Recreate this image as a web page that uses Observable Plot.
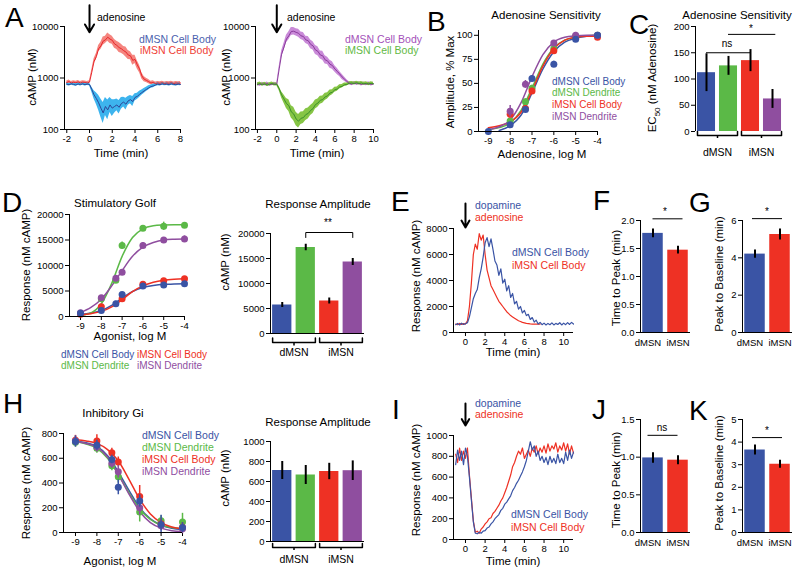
<!DOCTYPE html>
<html><head><meta charset="utf-8">
<script src="https://cdn.jsdelivr.net/npm/d3@7"></script>
<script src="https://cdn.jsdelivr.net/npm/@observablehq/plot@0.6"></script>
<style>
html,body{margin:0;padding:0;background:#fff;}
#root{position:relative;width:800px;height:573px;overflow:hidden;font-family:"Liberation Sans",Arial,Helvetica,sans-serif;background:#fff;}
#root svg{position:absolute;overflow:visible;background:transparent;}
.t{position:absolute;white-space:nowrap;line-height:1;}
.t sub{font-size:0.7em;line-height:0;}
</style></head><body><div id="root"></div><script>
// ---------- categories / labels ----------
const seriesNames = ["dMSN Cell Body", "dMSN Dendrite", "iMSN Cell Body", "iMSN Dendrite"];
const groupNames = ["dMSN", "iMSN"];
const doseX = [-9, -8, -7.3, -7, -6, -5, -4];
const curveX = [-9, -8.5, -8, -7.5, -7, -6.5, -6, -5.5, -5, -4.5, -4];

// ---------- Panel A (left): adenosine, t = -2..8 step 0.2 ----------
const aL_t0 = -2, aL_step = 0.2;
const aL_dmsn = [760,740,770,750,730,765,745,770,740,760,750,
  600,470,400,330,260,210,280,240,300,260,
  280,300,270,320,340,310,360,380,350,420,
  440,480,520,560,600,640,680,700,730,760,
  740,770,750,760,740,770,750,740,760,750];
const aL_dmsnSpread = [1.06,1.06,1.06,1.06,1.06,1.06,1.06,1.06,1.06,1.06,1.06,
  1.12,1.2,1.3,1.4,1.5,1.6,1.5,1.55,1.4,1.45,
  1.35,1.3,1.35,1.3,1.25,1.3,1.22,1.2,1.25,1.18,
  1.15,1.15,1.12,1.12,1.1,1.1,1.08,1.08,1.07,1.07,
  1.06,1.06,1.06,1.06,1.06,1.06,1.06,1.06,1.06,1.06];
const aL_imsn = [820,850,800,830,810,840,800,830,820,800,830,
  1300,2100,2600,3700,4200,5200,5500,6200,5700,5400,
  4600,4300,3900,3700,3400,3200,2800,2700,2200,2300,
  1800,1500,1100,950,900,850,800,820,780,800,
  790,810,780,800,790,810,780,800,790,800];
const aL_imsnSpread = [1.07,1.07,1.07,1.07,1.07,1.07,1.07,1.07,1.07,1.07,1.07,
  1.1,1.12,1.15,1.15,1.18,1.2,1.18,1.2,1.22,1.2,
  1.22,1.2,1.25,1.22,1.2,1.25,1.22,1.2,1.25,1.2,
  1.2,1.18,1.15,1.12,1.1,1.1,1.08,1.08,1.07,1.07,
  1.07,1.07,1.07,1.07,1.07,1.07,1.07,1.07,1.07,1.07];

// ---------- Panel A (right): t = -2..10 step 0.25 ----------
const aR_t0 = -2, aR_step = 0.25;
const aR_purple = [760,740,770,750,780,740,760,770,750,
  1500,2900,4000,5700,6600,8000,8100,7700,
  7400,6600,6400,5500,5300,4500,4200,3500,
  3300,2800,2700,2250,2150,1850,1750,1500,
  1350,1200,1050,950,860,790,760,800,
  770,790,750,780,760,790,750,770];
const aR_purpleSpread = [1.07,1.07,1.07,1.07,1.07,1.07,1.07,1.07,1.07,
  1.12,1.15,1.18,1.18,1.2,1.2,1.18,1.18,
  1.2,1.18,1.2,1.18,1.2,1.22,1.2,1.22,
  1.22,1.2,1.22,1.2,1.18,1.2,1.18,1.15,
  1.15,1.12,1.12,1.1,1.08,1.07,1.07,1.07,
  1.07,1.07,1.07,1.07,1.07,1.07,1.07,1.07];
const aR_green = [750,780,740,770,730,760,780,750,760,
  620,470,390,320,290,220,200,160,
  145,165,170,195,205,235,255,305,
  325,370,380,430,450,510,530,590,
  610,670,690,740,750,790,800,780,
  810,780,800,770,790,760,790,770];
const aR_greenSpread = [1.07,1.07,1.07,1.07,1.07,1.07,1.07,1.07,1.07,
  1.1,1.15,1.2,1.25,1.3,1.32,1.35,1.35,
  1.35,1.32,1.3,1.3,1.28,1.25,1.25,1.22,
  1.2,1.2,1.18,1.18,1.15,1.15,1.12,1.12,
  1.1,1.1,1.08,1.08,1.07,1.07,1.07,1.07,
  1.07,1.07,1.07,1.07,1.07,1.07,1.07,1.07];

// ---------- Panel B: adenosine sensitivity (% max) ----------
const bPtDB = [0, 7, 23, 55, 70, 96, 100],      bErrDB = [1, 2, 2, 3, 3, 2, 1];
const bPtDD = [null, 11, 31, 45, 86, 99, 100],  bErrDD = [0, 3, 3, 3, 3, 2, 1];
const bPtIB = [null, 18, 24, 42, 84, 98, 98],   bErrIB = [0, 3, 3, 3, 3, 2, 1];
const bPtID = [null, 21, 49, null, 92, 100, 100], bErrID = [0, 6, 4, 0, 2, 3, 1];
const bFitDB = [null, 1, 6, 17, 40, 65, 83, 93, 97, 99, 100];
const bFitDD = [2, 4, 9, 22, 45, 70, 87, 95, 98, 99.5, 100];
const bFitIB = [4, 6, 10, 20, 42, 68, 86, 95, 98, 99, 99];
const bFitID = [2, 5, 12, 30, 57, 80, 93, 98, 99.5, 100, 100];

// ---------- Panel C: EC50 ----------
const cEc50 = [112, 125, 135, 62];
const cEc50Err = [36, 18, 21, 18];

// ---------- Panel D: stimulatory Golf ----------
const dPtDB = [650, 1200, 2500, 4300, 6000, 6200, 6400],    dErrDB = [250, 300, 500, 400, 350, 350, 300];
const dPtDD = [600, 3500, 7100, 13900, 17300, 17700, 17900], dErrDD = [200, 300, 400, 700, 500, 800, 500];
const dPtIB = [450, 1900, null, 3500, 6300, 7000, 7400],    dErrIB = [200, 300, 0, 400, 400, 400, 300];
const dPtID = [750, 3700, 7500, 8700, 13900, 15000, 15200], dErrID = [300, 300, 400, 500, 600, 400, 600];
const dFitDB = [400, 700, 1200, 2200, 3600, 4900, 5700, 6100, 6300, 6350, 6400];
const dFitDD = [200, 700, 2500, 6500, 11800, 15500, 17200, 17800, 17950, 18000, 18000];
const dFitIB = [300, 550, 1000, 1900, 3300, 4900, 6000, 6700, 7100, 7300, 7400];
const dFitID = [800, 1800, 3400, 6000, 9000, 11800, 13600, 14500, 15000, 15150, 15200];
const dAmp = [5700, 17200, 6500, 14300];
const dAmpErr = [500, 650, 600, 700];

// ---------- Panel E: t = -1..11 step 0.2 ----------
const e_t0 = -1, e_step = 0.2;
const eDopa = [600,700,580,720,620,680,750,1200,1900,2600,
  3000,3300,4200,4900,5800,6900,7300,6600,7200,6400,
  5500,5200,4400,4900,3800,4100,3200,3600,2700,3000,
  2200,2400,1800,2000,1500,1700,1300,1400,1000,1150,
  800,950,650,780,600,720,580,700,600,740,
  580,700,620,750,580,720,600,760,620,780,650];
const eAdeno = [650,600,700,620,680,650,900,2000,3800,6000,
  6800,6400,7600,7100,7500,6000,4800,4200,3600,3300,
  3000,2700,2400,2200,2000,1800,1600,1450,1300,1200,
  1100,1000,900,850,780,740,700,680,660,650,
  640,650,640,650];
const fTime = [1.77, 1.47], fErr = [0.08, 0.07];
const gPeak = [4.2, 5.25], gErr = [0.22, 0.3];

// ---------- Panel H: inhibitory Gi ----------
const hPtDB = [735, 705, 590, 365, 255, 65, 40], hErrDB = [45, 40, 35, 60, 50, 75, 40];
const hPtDD = [730, 680, 540, 450, 165, 95, 85], hErrDD = [40, 40, 40, 50, 80, 40, 70];
const hPtIB = [745, 740, 645, 570, 290, 70, 40], hErrIB = [40, 50, 35, 40, 90, 40, 40];
const hPtID = [740, 690, 560, 490, 200, 55, 30], hErrID = [40, 40, 40, 50, 60, 40, 40];
const hFitDB = [740, 725, 695, 620, 490, 340, 200, 110, 60, 35, 25];
const hFitDD = [735, 715, 680, 600, 470, 320, 190, 105, 60, 40, 30];
const hFitIB = [750, 740, 720, 670, 580, 430, 270, 150, 80, 45, 30];
const hFitID = [735, 720, 690, 610, 470, 310, 170, 80, 35, 15, 8];
const hAmp = [710, 665, 700, 708];
const hAmpErr = [90, 95, 82, 98];

// ---------- Panel I: t = -1..11 step 0.2 ----------
const i_t0 = -1, i_step = 0.2;
const iDopa = [720,860,760,850,720,880,800,600,380,170,
  60,55,70,60,80,85,110,120,150,170,
  200,220,240,280,300,340,360,390,420,470,
  500,540,570,610,650,700,760,850,940,860,
  900,800,850,760,800,740,790,720,800,740,
  780,730,820,740,780,730,840,760,860,780,840];
const iAdeno = [820,740,880,760,850,780,880,620,400,180,
  70,80,60,100,120,150,170,200,210,250,
  270,300,330,370,400,450,500,560,620,700,
  740,800,850,820,880,780,820,860,800,880,
  840,900,820,880,840,900,830,920,850,900,
  870,930,840,900,860,930,850,920,820,900,830];
const jTime = [0.99, 0.96], jErr = [0.07, 0.06];
const kPeak = [3.65, 3.02], kErr = [0.22, 0.18];

// ---------- styling ----------
const FONT = '"Liberation Sans", Arial, Helvetica, sans-serif';
const BLUE = "#3a54a5", GREEN = "#5bb947", RED = "#ee3124", PURPLE = "#8f4e9f";
const SERIES_COLORS = [BLUE, GREEN, RED, PURPLE];
const root = document.getElementById("root");
const M = {l: 50, r: 20, t: 30, b: 30};
const intFmt = d => d3.format("d")(d).replace("\u2212", "-");

function plotAt(fr, opts) {
  const svg = Plot.plot(Object.assign({
    width: fr.x1 - fr.x0 + M.l + M.r,
    height: fr.y1 - fr.y0 + M.t + M.b,
    marginLeft: M.l, marginRight: M.r, marginTop: M.t, marginBottom: M.b,
    style: {fontFamily: FONT, fontSize: "9.5px", background: "transparent", overflow: "visible", color: "#000"}
  }, opts));
  svg.style.position = "absolute";
  svg.style.left = (fr.x0 - M.l) + "px";
  svg.style.top = (fr.y0 - M.t) + "px";
  root.appendChild(svg);
  return svg;
}
function label(text, x, y, o = {}) {
  const d = document.createElement("div");
  d.className = "t";
  d.innerHTML = text;
  d.style.left = x + "px";
  d.style.top = y + "px";
  d.style.fontSize = (o.size || 10) + "px";
  d.style.color = o.color || "#000";
  const ax = o.anchor === "middle" ? "-50%" : o.anchor === "end" ? "-100%" : "0";
  d.style.transform = `translate(${ax}, -50%)` + (o.rotate ? " rotate(-90deg)" : "");
  root.appendChild(d);
}
const ts = (t0, step, vals, spread) => vals.map((v, i) => ({
  t: +(t0 + i * step).toFixed(3), v, lo: spread ? v / spread[i] : v, hi: spread ? v * spread[i] : v}));
const axisX = (domain, ticks, extra = {}) => Object.assign({domain, ticks, tickSize: 4, tickPadding: 2, label: null, tickFormat: intFmt}, extra);
const axisY = (domain, ticks, extra = {}) => Object.assign({domain, ticks, tickSize: 4, tickPadding: 2, label: null, tickFormat: intFmt}, extra);
const arrowAt0 = (y1, y2) => Plot.arrow([0], {x1: d => d, x2: d => d, y1: () => y1, y2: () => y2, stroke: "#000", strokeWidth: 2, headLength: 7});

// ---------- A left ----------
{
  const dm = ts(aL_t0, aL_step, aL_dmsn, aL_dmsnSpread);
  const im = ts(aL_t0, aL_step, aL_imsn, aL_imsnSpread);
  plotAt({x0: 64, x1: 180, y0: 26, y1: 129}, {
    x: axisX([-2.2, 8], [-2, 0, 2, 4, 6, 8]),
    y: axisY([100, 10000], [100, 1000, 10000], {type: "log"}),
    marks: [
      Plot.areaY(im, {x: "t", y1: "lo", y2: "hi", fill: "#f5857f"}),
      Plot.areaY(dm, {x: "t", y1: "lo", y2: "hi", fill: "#3db4ee"}),
      Plot.lineY(im, {x: "t", y: "v", stroke: "#e8262b", strokeWidth: 1}),
      Plot.lineY(dm, {x: "t", y: "v", stroke: "#2d4597", strokeWidth: 1}),
      Plot.ruleX([-2.2]), Plot.ruleY([100]),
      arrowAt0(26000, 7700)
    ]
  });
}
// ---------- A right ----------
{
  const pu = ts(aR_t0, aR_step, aR_purple, aR_purpleSpread);
  const gr = ts(aR_t0, aR_step, aR_green, aR_greenSpread);
  plotAt({x0: 255, x1: 373, y0: 26, y1: 129}, {
    x: axisX([-2.2, 10], [-2, 0, 2, 4, 6, 8, 10]),
    y: axisY([100, 10000], [100, 1000, 10000], {type: "log"}),
    marks: [
      Plot.areaY(pu, {x: "t", y1: "lo", y2: "hi", fill: "#c98ad8"}),
      Plot.areaY(gr, {x: "t", y1: "lo", y2: "hi", fill: "#86c545"}),
      Plot.lineY(pu, {x: "t", y: "v", stroke: "#8a3b9c", strokeWidth: 1}),
      Plot.lineY(gr, {x: "t", y: "v", stroke: "#3b8f2c", strokeWidth: 1}),
      Plot.ruleX([-2.2]), Plot.ruleY([100]),
      arrowAt0(26000, 7700)
    ]
  });
}

// ---------- dose-response helper ----------
function dosePanel(fr, xdom, ydom, yticks, pts, errs, fits) {
  const marks = [];
  fits.forEach((f, s) => {
    const rows = curveX.map((x, i) => ({x, v: f[i]})).filter(d => d.v != null);
    marks.push(Plot.line(rows, {x: "x", y: "v", stroke: SERIES_COLORS[s], strokeWidth: 1.5, curve: "monotone-x"}));
  });
  const order = [1, 2, 3, 0];
  order.forEach(s => {
    const rows = doseX.map((x, i) => ({x, v: pts[s][i], e: errs[s][i]})).filter(d => d.v != null);
    marks.push(Plot.ruleX(rows, {x: "x", y1: d => d.v - d.e, y2: d => d.v + d.e, stroke: SERIES_COLORS[s], strokeWidth: 1.5}));
    marks.push(Plot.dot(rows, {x: "x", y: "v", fill: SERIES_COLORS[s], r: 3.5}));
  });
  marks.push(Plot.ruleX([xdom[0]]), Plot.ruleY([ydom[0]]));
  plotAt(fr, {
    x: axisX(xdom, [-9, -8, -7, -6, -5, -4]),
    y: axisY(ydom, yticks),
    marks
  });
}

dosePanel({x0: 478, x1: 597, y0: 30, y1: 131}, [-9.45, -4], [0, 105], [0, 25, 50, 75, 100],
  [bPtDB, bPtDD, bPtIB, bPtID], [bErrDB, bErrDD, bErrIB, bErrID], [bFitDB, bFitDD, bFitIB, bFitID]);
dosePanel({x0: 69, x1: 184, y0: 214, y1: 316}, [-9.53, -4], [0, 20000], [0, 5000, 10000, 15000, 20000],
  [dPtDB, dPtDD, dPtIB, dPtID], [dErrDB, dErrDD, dErrIB, dErrID], [dFitDB, dFitDD, dFitIB, dFitID]);
dosePanel({x0: 63, x1: 182, y0: 433, y1: 532}, [-9.56, -4], [0, 800], [0, 200, 400, 600, 800],
  [hPtDB, hPtDD, hPtIB, hPtID], [hErrDB, hErrDD, hErrIB, hErrID], [hFitDB, hFitDD, hFitIB, hFitID]);

// ---------- bar helper ----------
function barPanel(fr, vals, errs, colors, ydom, yticks, cfg = {}) {
  const n = vals.length;
  const rows = vals.map((v, i) => ({p: i + 1, v, e: errs[i], c: colors[i]}));
  const w = 0.41;
  const k = (ydom[1] - ydom[0]) / (fr.y1 - fr.y0); // data units per pixel
  const marks = [
    Plot.rect(rows, {x1: d => d.p - w, x2: d => d.p + w, y1: () => 0, y2: "v", fill: "c"}),
    Plot.ruleX(rows, {x: "p", y1: d => d.v - d.e, y2: d => d.v + d.e, stroke: "#000", strokeWidth: 2}),
    Plot.ruleX([0.5])
  ];
  if (cfg.baseline) marks.push(Plot.ruleY([0]));
  if (cfg.brackets) {
    const b = cfg.brackets;
    const br = [];
    groupNames.forEach((g, gi) => {
      const a = 2 * gi + 1 - w, z = 2 * gi + 2 + w;
      br.push({g, x: a, y: -b.end * k}, {g, x: a, y: -b.line * k}, {g, x: z, y: -b.line * k}, {g, x: z, y: -b.end * k});
    });
    marks.push(Plot.line(br, {x: "x", y: "y", z: "g", stroke: "#000", strokeWidth: 1.5}));
    marks.push(Plot.ruleX([1.5, 3.5], {y1: () => -b.line * k, y2: () => -b.tick * k, stroke: "#000", strokeWidth: 1.5}));
    marks.push(Plot.text(groupNames.map((g, gi) => ({g, p: 2 * gi + 1.5})), {x: "p", text: "g", frameAnchor: "bottom", dy: b.label, fontSize: 10.5}));
  } else {
    const labelPos = [0.8, 2.0];
    marks.push(Plot.text(groupNames.map((g, gi) => ({g, p: labelPos[gi]})), {x: "p", text: "g", frameAnchor: "bottom", dy: cfg.labelDy || 13, fontSize: 9.5}));
  }
  (cfg.sig || []).forEach(s => {
    if (s.ticks) {
      const pts = [{x: s.x1, y: s.y - s.ticks * k}, {x: s.x1, y: s.y}, {x: s.x2, y: s.y}, {x: s.x2, y: s.y - s.ticks * k}];
      marks.push(Plot.line(pts, {x: "x", y: "y", stroke: "#000", strokeWidth: 1}));
    } else {
      marks.push(Plot.ruleY([s.y], {x1: () => s.x1, x2: () => s.x2, stroke: "#000", strokeWidth: 1}));
    }
  });
  plotAt(fr, {
    x: {domain: [0.5, n + 0.5], axis: null},
    y: axisY(ydom, yticks, cfg.yfmt ? {tickFormat: cfg.yfmt} : {}),
    color: {type: "identity"},
    marks
  });
}

barPanel({x0: 695, x1: 783, y0: 26, y1: 131}, cEc50, cEc50Err, SERIES_COLORS, [0, 200], [0, 50, 100, 150, 200],
  {brackets: {end: 0, line: 4, tick: 7, label: 24}, sig: [{x1: 1, x2: 3, y: 150}, {x1: 2, x2: 4.15, y: 185}]});
barPanel({x0: 270, x1: 364, y0: 233, y1: 333}, dAmp, dAmpErr, SERIES_COLORS, [0, 20000], [0, 5000, 10000, 15000, 20000],
  {baseline: true, brackets: {end: 4.5, line: 9, tick: 12.5, label: 22}, sig: [{x1: 2, x2: 4, y: 20200, ticks: 5}]});
barPanel({x0: 270, x1: 364, y0: 441, y1: 541}, hAmp, hAmpErr, SERIES_COLORS, [0, 1000], [0, 200, 400, 600, 800, 1000],
  {baseline: true, brackets: {end: 2, line: 6, tick: 9, label: 21}});
barPanel({x0: 640, x1: 690, y0: 220, y1: 332}, fTime, fErr, [BLUE, RED], [0, 2], [0, 0.5, 1, 1.5, 2],
  {baseline: true, yfmt: d3.format(".1f"), sig: [{x1: 1, x2: 2.2, y: 2.03}]});
barPanel({x0: 742, x1: 792, y0: 220, y1: 332}, gPeak, gErr, [BLUE, RED], [0, 6], [0, 2, 4, 6],
  {baseline: true, sig: [{x1: 0.9, x2: 2.1, y: 6.1}]});
barPanel({x0: 640, x1: 690, y0: 419, y1: 532}, jTime, jErr, [BLUE, RED], [0, 1.5], [0, 0.5, 1, 1.5],
  {baseline: true, yfmt: d3.format(".1f"), sig: [{x1: 0.8, x2: 2.0, y: 1.29}]});
barPanel({x0: 742, x1: 792, y0: 419, y1: 532}, kPeak, kErr, [BLUE, RED], [0, 5], [0, 1, 2, 3, 4, 5],
  {baseline: true, sig: [{x1: 0.9, x2: 2.1, y: 4.2}]});

// ---------- E / I traces ----------
function tracePanel(fr, ydom, yticks, blue, red, arrow) {
  plotAt(fr, {
    x: axisX([-1.22, 11], [0, 2, 4, 6, 8, 10]),
    y: axisY(ydom, yticks),
    marks: [
      Plot.lineY(red, {x: "t", y: "v", stroke: RED, strokeWidth: 1.2}),
      Plot.lineY(blue, {x: "t", y: "v", stroke: BLUE, strokeWidth: 1.2}),
      Plot.ruleX([-1.22]), Plot.ruleY([0]),
      arrowAt0(arrow[0], arrow[1])
    ]
  });
}
tracePanel({x0: 453, x1: 573, y0: 228, y1: 332}, [0, 8000], [0, 2000, 4000, 6000, 8000],
  ts(e_t0, e_step, eDopa), ts(e_t0, e_step, eAdeno), [9920, 8080]);
tracePanel({x0: 453, x1: 573, y0: 435, y1: 539}, [0, 1000], [0, 200, 400, 600, 800, 1000],
  ts(i_t0, i_step, iDopa), ts(i_t0, i_step, iAdeno), [1308, 1096]);

// ---------- text ----------
const L = 28;
[["A", 5, 18], ["B", 427, 22], ["C", 629, 25], ["D", 2, 203], ["E", 391, 202], ["F", 593, 201],
 ["G", 689, 203], ["H", 3, 404], ["I", 392, 410], ["J", 592, 410], ["K", 689, 411]]
  .forEach(([s, x, y]) => label(s, x, y, {size: L}));

// titles
const TT = 11.5;
label("Adenosine Sensitivity", 546, 16, {size: TT, anchor: "middle"});
label("Adenosine Sensitivity", 737, 16, {size: TT, anchor: "middle"});
label("Stimulatory Golf", 115, 204, {size: TT, anchor: "middle"});
label("Response Amplitude", 318, 205, {size: TT, anchor: "middle"});
label("Inhibitory Gi", 113, 414, {size: TT, anchor: "middle"});
label("Response Amplitude", 318, 423, {size: TT, anchor: "middle"});

// axis labels
const AX = 11.5;
label("Time (min)", 121, 154, {size: AX, anchor: "middle"});
label("cAMP (nM)", 33, 77, {size: AX, anchor: "middle", rotate: true});
label("Time (min)", 317, 154, {size: AX, anchor: "middle"});
label("cAMP (nM)", 227, 77, {size: AX, anchor: "middle", rotate: true});
label("Adenosine, log M", 542, 155, {size: AX, anchor: "middle"});
label("Amplitude, % Max", 451, 82, {size: AX, anchor: "middle", rotate: true});
label("EC<sub>50</sub> (nM Adenosine)", 653, 78, {size: AX, anchor: "middle", rotate: true});
label("Agonist, log M", 130, 337, {size: AX, anchor: "middle"});
label("Response (nM cAMP)", 27, 265, {size: AX, anchor: "middle", rotate: true});
label("cAMP (nM)", 226, 262, {size: AX, anchor: "middle", rotate: true});
label("Time (min)", 513, 353, {size: AX, anchor: "middle"});
label("Response (nM cAMP)", 417, 276, {size: AX, anchor: "middle", rotate: true});
label("Time to Peak (min)", 617, 278, {size: AX, anchor: "middle", rotate: true});
label("Peak to Baseline (min)", 720, 274, {size: AX, anchor: "middle", rotate: true});
label("Agonist, log M", 120, 562, {size: AX, anchor: "middle"});
label("Response (nM cAMP)", 27, 483, {size: AX, anchor: "middle", rotate: true});
label("cAMP (nM)", 226, 478, {size: AX, anchor: "middle", rotate: true});
label("Time (min)", 513, 562, {size: AX, anchor: "middle"});
label("Response (nM cAMP)", 417, 480, {size: AX, anchor: "middle", rotate: true});
label("Time to Peak (min)", 617, 480, {size: AX, anchor: "middle", rotate: true});
label("Peak to Baseline (min)", 720, 473, {size: AX, anchor: "middle", rotate: true});

// annotations / legends
const LG = 10.5;
label("adenosine", 97, 17, {size: LG});
label("adenosine", 287, 17, {size: LG});
label("dMSN Cell Body", 139, 39, {size: LG, color: "#4a61ae"});
label("iMSN Cell Body", 140, 50, {size: LG, color: "#ef4136"});
label("dMSN Cell Body", 345, 39, {size: LG, color: "#a451b9"});
label("iMSN Cell Body", 345, 50, {size: LG, color: "#62b945"});
[82, 93, 105, 117].forEach((y, i) => label(seriesNames[i], 552, y, {size: 10, color: SERIES_COLORS[i]}));
[[61, 355], [61, 366], [137, 355], [137, 366]].forEach(([x, y], i) => label(seriesNames[i], x, y, {size: 10, color: SERIES_COLORS[i]}));
[435, 447, 459, 471].forEach((y, i) => label(seriesNames[i], 142, y, {size: LG, color: SERIES_COLORS[i]}));
label("dopamine", 475, 205, {size: LG, color: BLUE});
label("adenosine", 475, 217, {size: LG, color: RED});
label("dMSN Cell Body", 512, 252, {size: LG, color: BLUE});
label("iMSN Cell Body", 512, 265, {size: LG, color: RED});
label("dopamine", 475, 403, {size: LG, color: BLUE});
label("adenosine", 475, 414, {size: LG, color: RED});
label("dMSN Cell Body", 511, 514, {size: LG, color: BLUE});
label("iMSN Cell Body", 511, 527, {size: LG, color: RED});
// significance
label("ns", 727, 44, {anchor: "middle"});
label("*", 751, 29, {anchor: "middle"});
label("**", 328, 223, {anchor: "middle"});
label("*", 665, 212, {anchor: "middle"});
label("*", 767, 212, {anchor: "middle"});
label("ns", 662, 428, {anchor: "middle"});
label("*", 767, 431, {anchor: "middle"});
</script></body></html>
